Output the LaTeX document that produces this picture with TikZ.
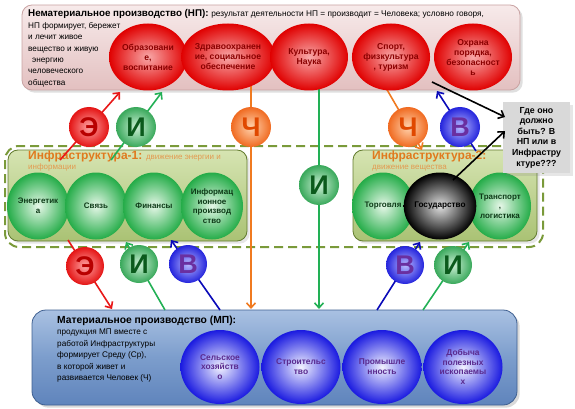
\documentclass[tikz,border=0pt]{standalone}
\usepackage{fontspec}
\setmainfont{Liberation Sans}
\usetikzlibrary{shapes.geometric,arrows.meta,shadows}
\definecolor{cRed}{HTML}{E00000}
\definecolor{cRedIn}{HTML}{F8A8A8}
\definecolor{cRedTxt}{HTML}{8A0000}
\definecolor{cGreen}{HTML}{24AC48}
\definecolor{cGreenIn}{HTML}{E6F7E8}
\definecolor{cGreenTxt}{HTML}{0E3A18}
\definecolor{cBlue}{HTML}{1A1AE0}
\definecolor{cBlueIn}{HTML}{F2F2FF}
\definecolor{cPurple}{HTML}{5A2A8E}
\definecolor{cLnRed}{HTML}{E81818}
\definecolor{cLnGreen}{HTML}{22B055}
\definecolor{cLnBlue}{HTML}{0A0AB8}
\definecolor{cLnOrange}{HTML}{F07A20}
\definecolor{cOlive}{HTML}{7A9A3A}
\definecolor{cInfTop}{HTML}{D6E4B2}
\definecolor{cInfBot}{HTML}{AAC274}
\definecolor{cInfTxt}{HTML}{E07A1E}
\definecolor{cInfSub}{HTML}{E39A50}
\definecolor{cNpTop}{HTML}{F7EAEA}
\definecolor{cNpBot}{HTML}{E3C0C0}
\definecolor{cNpLine}{HTML}{C9A3A3}
\definecolor{cMpTop}{HTML}{A9C1E2}
\definecolor{cMpMid}{HTML}{7C9DCC}
\definecolor{cMpBot}{HTML}{5F84BC}
\definecolor{cMpLine}{HTML}{3E5F90}
\definecolor{cGray}{HTML}{D9D9D9}
\definecolor{bRedIn}{HTML}{FFA4A4}
\definecolor{bRedOut}{HTML}{E41414}
\definecolor{bRedTxt}{HTML}{B80000}
\definecolor{bGreenIn}{HTML}{CDEFD6}
\definecolor{bGreenOut}{HTML}{38A85A}
\definecolor{bGreenTxt}{HTML}{0B5A1C}
\definecolor{bBlueIn}{HTML}{BABAFF}
\definecolor{bBlueOut}{HTML}{2424DC}
\definecolor{bBlueTxt}{HTML}{6A2FA0}
\definecolor{bOrIn}{HTML}{FFD3AE}
\definecolor{bOrOut}{HTML}{F06A20}
\definecolor{bOrTxt}{HTML}{E04800}
\begin{document}
\begin{tikzpicture}[x=1pt,y=-1pt,
  txt/.style={inner sep=0pt, align=left, font=\fontsize{8.2}{11.4}\selectfont},
  bigbox/.style={rectangle, rounded corners=10pt, inner sep=0pt},
  rc/.style={ellipse, inner sep=0pt, minimum width=78pt, minimum height=67pt, inner color=cRedIn, outer color=cRed, align=center, text=cRedTxt, font=\bfseries\fontsize{8.6}{10}\selectfont},
  gc/.style={ellipse, inner sep=0pt, minimum width=62pt, minimum height=67pt, inner color=cGreenIn, outer color=cGreen, align=center, text=cGreenTxt, font=\bfseries\fontsize{8}{9.6}\selectfont},
  bc/.style={ellipse, inner sep=0pt, minimum width=79pt, minimum height=74pt, inner color=cBlueIn, outer color=cBlue, align=center, text=cPurple, font=\bfseries\fontsize{8.4}{9.8}\selectfont},
  lball/.style={circle, inner sep=0pt, minimum size=#1, font=\bfseries\fontsize{27}{27}\selectfont},
  redb/.style={lball=#1, inner color=bRedIn, outer color=bRedOut, text=bRedTxt},
  greenb/.style={lball=#1, inner color=bGreenIn, outer color=bGreenOut, text=bGreenTxt},
  blueb/.style={lball=#1, inner color=bBlueIn, outer color=bBlueOut, text=bBlueTxt},
  orb/.style={lball=#1, inner color=bOrIn, outer color=bOrOut, text=bOrTxt},
  arr/.style={line width=1.6pt, -{Straight Barb[length=5pt,width=9pt]}},
]
\useasboundingbox (0,0) rectangle (575,409);

% ---------- boxes ----------
\node[bigbox, minimum width=498pt, minimum height=85pt, top color=cNpTop, bottom color=cNpBot, draw=cNpLine, line width=0.8pt, drop shadow={opacity=0.25}] (np) at (271,47.5) {};
\node[bigbox, rounded corners=14pt, minimum width=538pt, minimum height=101pt, draw=cOlive, line width=2pt, dash pattern=on 9pt off 5pt] (dsh) at (274,196.5) {};
\node[bigbox, minimum width=239pt, minimum height=91pt, top color=cInfTop, bottom color=cInfBot, draw=cOlive!80!black, line width=0.8pt, drop shadow={opacity=0.2}] (inf1) at (127.5,195.5) {};
\node[bigbox, minimum width=184pt, minimum height=91pt, top color=cInfTop, bottom color=cInfBot, draw=cOlive!80!black, line width=0.8pt, drop shadow={opacity=0.2}] (inf2) at (445,195.5) {};
\node[bigbox, rounded corners=14pt, minimum width=485pt, minimum height=95pt, top color=cMpTop, bottom color=cMpBot, middle color=cMpMid, draw=cMpLine, line width=0.8pt, drop shadow={opacity=0.3}] (mp) at (274.5,357.5) {};

% ---------- texts ----------
\node[anchor=base west, inner sep=0pt] (nptitle) at (28,17) {{\bfseries\fontsize{9.8}{11}\selectfont Нематериальное производство (НП):} {\fontsize{8.3}{9}\selectfont результат деятельности НП = производит = Человека; условно говоря,}};
\node[txt, anchor=north west] (nptext) at (28,22) {НП формирует, бережет\\и лечит живое\\вещество и живую\\\hspace*{4pt}энергию\\человеческого\\общества};

\node[anchor=base west, inner sep=0pt, text=cInfTxt] (i1t) at (28,159.5) {{\bfseries\fontsize{12}{13}\selectfont Инфраструктура-1:} {\fontsize{8}{9}\selectfont\color{cInfSub}движение энергии и}};
\node[anchor=base west, inner sep=0pt, text=cInfSub, font=\fontsize{8}{9}\selectfont] (i1s) at (28,169.5) {информации};
\node[anchor=base west, inner sep=0pt, text=cInfTxt, font=\bfseries\fontsize{12}{13}\selectfont] (i2t) at (372,159.5) {Инфраструктура-2:};
\node[anchor=base west, inner sep=0pt, text=cInfSub, font=\fontsize{8}{9}\selectfont] (i2s) at (372,169.5) {движение вещества};

\node[anchor=base west, inner sep=0pt, font=\bfseries\fontsize{10.3}{12}\selectfont] (mpt) at (57,323.5) {Материальное производство (МП):};
\node[txt, anchor=north west] (mptext) at (57,329) {продукция МП вместе с\\работой Инфраструктуры\\формирует Среду (Ср),\\в которой живет и\\развивается Человек (Ч)};

% ---------- connector end points ----------
\coordinate (r1s) at (60,160);  \coordinate (r1e) at (120,92);
\coordinate (g1s) at (111,160); \coordinate (g1e) at (162,92);
\coordinate (o1s) at (251,86);  \coordinate (o1e) at (251,309);
\coordinate (g2s) at (319,86);  \coordinate (g2e) at (319,309);
\coordinate (o2s) at (386,88);  \coordinate (o2e) at (422,150);
\coordinate (b1s) at (476,151); \coordinate (b1e) at (437,91);
\coordinate (r2s) at (68,240);  \coordinate (r2e) at (112,309);
\coordinate (g3s) at (165,310); \coordinate (g3e) at (126,242);
\coordinate (b2s) at (220,310); \coordinate (b2e) at (171,240);
\coordinate (b3s) at (377,310); \coordinate (b3e) at (420,242);
\coordinate (g4s) at (423,310); \coordinate (g4e) at (469,242);

\draw[arr, cLnOrange] (o1s) -- (o1e);
\draw[arr, cLnGreen] (g2s) -- (g2e);
\draw[arr, cLnOrange] (o2s) -- (o2e);

% ---------- circles ----------
\node[rc] (c1) at (148,57) {Образовани\\е,\\воспитание};
\node[rc] (c2) at (228,57) {Здравоохранен\\ие, социальное\\обеспечение};
\node[rc] (c3) at (309,57) {Культура,\\Наука};
\node[rc] (c4) at (391,57) {Спорт,\\физкультура\\, туризм};
\node[rc] (c5) at (473,57) {Охрана\\порядка,\\безопасност\\ь};

\node[gc] (g1) at (38,206) {Энергетик\\а};
\node[gc] (g2) at (96,206) {Связь};
\node[gc] (g3) at (154,206) {Финансы};
\node[gc] (g4) at (212,206) {Информац\\ионное\\производ\\ство};
\node[gc] (g5) at (383,206) {Торговля};
\node[gc] (g7) at (500,206) {Транспорт\\,\\логистика};
\node[gc, inner color=black!12, outer color=black, text=black, font=\bfseries\fontsize{8.2}{9}\selectfont] (g6) at (440,206) {Государство};

\node[bc] (bb1) at (220,367) {Сельское\\хозяйств\\о};
\node[bc] (bb2) at (301,367) {Строительс\\тво};
\node[bc] (bb3) at (382,367) {Промышле\\нность};
\node[bc] (bb4) at (463,367) {Добыча\\полезных\\ископаемы\\х};

% ---------- slanted connectors ----------
\draw[arr, cLnRed] (r1s) -- (r1e);
\draw[arr, cLnGreen] (g1s) -- (g1e);
\draw[arr, cLnBlue] (b1s) -- (b1e);
\draw[arr, cLnRed] (r2s) -- (r2e);
\draw[arr, cLnGreen] (g3s) -- (g3e);
\draw[arr, cLnBlue] (b2s) -- (b2e);
\draw[arr, cLnBlue] (b3s) -- (b3e);
\draw[arr, cLnGreen] (g4s) -- (g4e);

% ---------- letter balls ----------
\node[redb=40pt] (lE1) at (89,127) {Э};
\node[greenb=40pt] (lI1) at (136,127) {И};
\node[orb=40pt] (lC1) at (251,127) {Ч};
\node[orb=40pt] (lC2) at (408,127) {Ч};
\node[blueb=40pt] (lV1) at (460,127) {В};
\node[greenb=40pt] (lI2) at (319,185) {И};
\node[redb=38pt] (lE2) at (85,266) {Э};
\node[greenb=38pt] (lI3) at (139,264) {И};
\node[blueb=38pt] (lV2) at (188,264) {В};
\node[blueb=38pt] (lV3) at (405,265) {В};
\node[greenb=38pt] (lI4) at (453,265) {И};

% ---------- question box ----------
\node[rectangle, fill=cGray, minimum width=67pt, minimum height=71pt, align=center, inner sep=0pt, font=\bfseries\fontsize{8.8}{10.6}\selectfont, drop shadow={opacity=0.2}] (q) at (536.5,137.5) {Где оно\\должно\\быть? В\\НП или в\\Инфрастру\\ктуре???};
\coordinate (k1s) at (432,82);  \coordinate (k1e) at (505,117);
\coordinate (k2s) at (453,180); \coordinate (k2e) at (505,131);
\draw[arr, black] (k1s) -- (k1e);
\draw[arr, black] (k2s) -- (k2e);
\end{tikzpicture}
\end{document}
